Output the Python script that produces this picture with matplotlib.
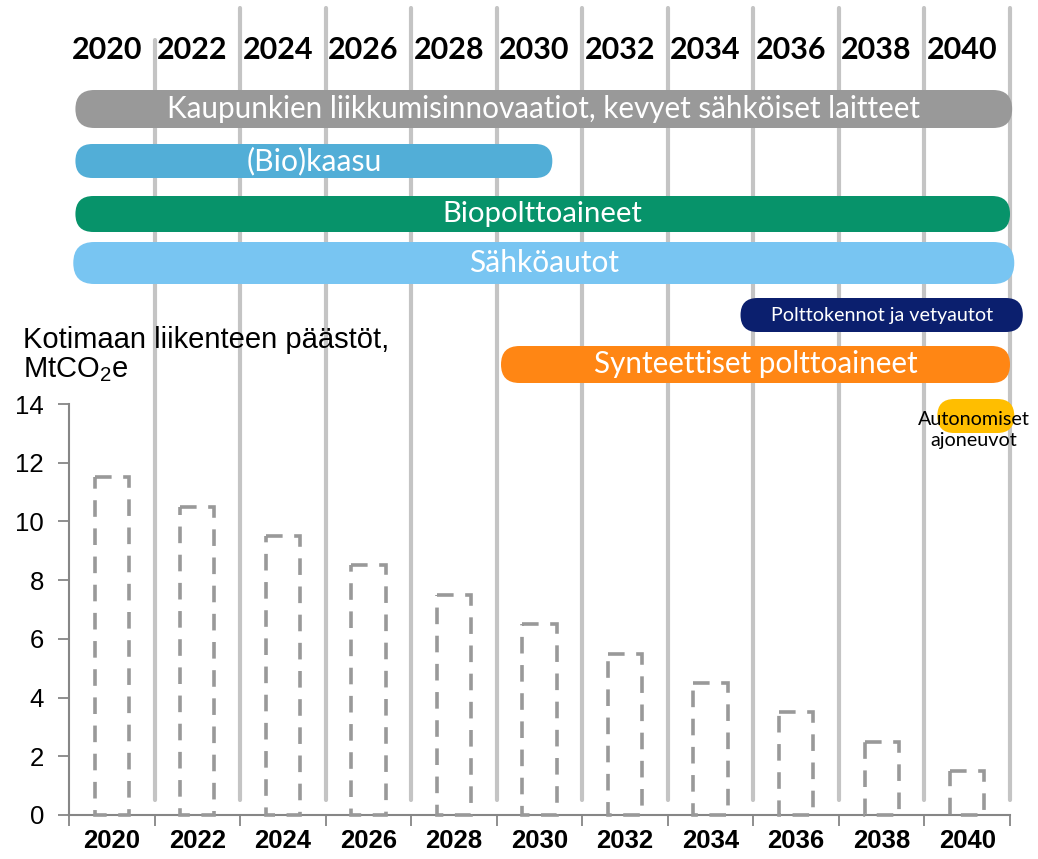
import matplotlib
matplotlib.use("Agg")
import matplotlib.pyplot as plt
from matplotlib.patches import FancyBboxPatch

# ---------------- data ----------------
years = [2020, 2022, 2024, 2026, 2028, 2030, 2032, 2034, 2036, 2038, 2040]
emissions = [11.5, 10.5, 9.5, 8.5, 7.5, 6.5, 5.5, 4.5, 3.5, 2.5, 1.5]
yticks = [0, 2, 4, 6, 8, 10, 12, 14]

timeline_labels = [
    "Kaupunkien liikkumisinnovaatiot, kevyet sähköiset laitteet",
    "(Bio)kaasu",
    "Biopolttoaineet",
    "Sähköautot",
    "Polttokennot ja vetyautot",
    "Synteettiset polttoaineet",
    "Autonomiset\najoneuvot",
]
timeline_start = [2019.15, 2019.15, 2019.15, 2019.1, 2034.7, 2029.1, 2039.3]
timeline_end = [2041.05, 2030.3, 2041.0, 2041.1, 2041.3, 2041.0, 2041.1]

# ---------------- styling ----------------
W, H = 1038, 859
DPI = 100
row_top = [90, 144, 196, 242, 298, 346, 399]
row_h = [38, 34, 36, 42, 34, 37, 34]
row_color = ["#999999", "#52AED7", "#07936A", "#78C5F2", "#0B1F6E", "#FF8614", "#FFBE00"]
row_text_color = ["white", "white", "white", "white", "white", "white", "black"]
row_fs = [21.3, 21.7, 21.2, 21.5, 14.2, 21.3, 14.2]

plt.rcParams["font.family"] = ["Liberation Sans", "DejaVu Sans"]
plt.rcParams["mathtext.fontset"] = "custom"
plt.rcParams["mathtext.rm"] = "Liberation Sans"
plt.rcParams["mathtext.it"] = "Liberation Sans:italic"

fig = plt.figure(figsize=(W / DPI, H / DPI), dpi=DPI)
ax_left, ax_right, ax_bottom, ax_top = 69, 1010, 815, 404
ax = fig.add_axes([ax_left / W, (H - ax_bottom) / H,
                   (ax_right - ax_left) / W, (ax_bottom - ax_top) / H])

idx = list(range(len(years)))
half_w = 0.2
for i, v in zip(idx, emissions):
    ax.plot([i - half_w, i + half_w, i + half_w, i - half_w, i - half_w],
            [v, v, 0, 0, v], color="#999999", lw=2.6,
            linestyle=(0, (4.6, 3.2)), dash_joinstyle="miter",
            dash_capstyle="butt", zorder=3, clip_on=False)

ax.set_xlim(-0.5, len(years) - 0.5)
ax.set_ylim(0, 14)
ax.set_yticks(yticks)
ax.set_yticklabels([str(v) for v in yticks], fontsize=18.5)
ax.set_xticks([i - 0.5 for i in range(len(years) + 1)])
ax.set_xticklabels([])
ax.set_xticks(idx, minor=True)
ax.set_xticklabels([str(y) for y in years], minor=True, fontsize=18.5, fontweight="bold")
ax.tick_params(axis="x", which="minor", length=0, pad=10)
ax.tick_params(axis="x", which="major", length=8, width=1.3, color="#868686", direction="out")
ax.tick_params(axis="y", length=8, width=1.3, color="#868686", pad=10)
for s in ["top", "right"]:
    ax.spines[s].set_visible(False)
for s in ["left", "bottom"]:
    ax.spines[s].set_color("#868686")
    ax.spines[s].set_linewidth(1.5)
ax.patch.set_alpha(0)

# background overlay in pixel coordinates (separators, header years)
ov = fig.add_axes([0, 0, 1, 1], zorder=-1)
ov.set_xlim(0, W)
ov.set_ylim(H, 0)
ov.axis("off")

def xpix(data_x):
    return ax.transData.transform((data_x, 0))[0]

def year_to_px(year):
    return xpix((year - years[0]) / 2.0)

for i in range(1, len(years) + 1):
    x = xpix(i - 0.5)
    top = 40 if i == 1 else 8
    ov.plot([x, x], [top, 800], color="#C4C4C4", lw=3, solid_capstyle="round", zorder=1)

for i, y in enumerate(years):
    ov.text(xpix(i) - 5, 50, str(y), ha="center", va="center", fontsize=22,
            fontweight="bold", family="Lato", zorder=5)

# foreground overlay (timeline capsules)
ov2 = fig.add_axes([0, 0, 1, 1], zorder=5)
ov2.set_xlim(0, W)
ov2.set_ylim(H, 0)
ov2.axis("off")

for lab, s, e, top, h, c, tc, fs in zip(timeline_labels, timeline_start, timeline_end,
                                         row_top, row_h, row_color, row_text_color, row_fs):
    x0, x1 = year_to_px(s), year_to_px(e)
    p = FancyBboxPatch((x0, top), x1 - x0, h,
                       boxstyle=f"round,pad=0,rounding_size={h / 2}",
                       facecolor=c, edgecolor="none", zorder=2)
    ov2.add_patch(p)
    if "\n" in lab:
        ov2.text((x0 + x1) / 2 - 2, top + h / 2 + 14, lab, ha="center", va="center",
                 fontsize=fs, color=tc, family="Lato", linespacing=1.3, zorder=3)
    else:
        ov2.text((x0 + x1) / 2, top + h / 2, lab, ha="center", va="center",
                 fontsize=fs, color=tc, family="Lato", zorder=3)

ov2.text(23, 355, "Kotimaan liikenteen päästöt,\nMtCO$_2$e", ha="left", va="center",
         fontsize=21, linespacing=1.05, zorder=3)

fig.savefig("out.png", dpi=DPI)
